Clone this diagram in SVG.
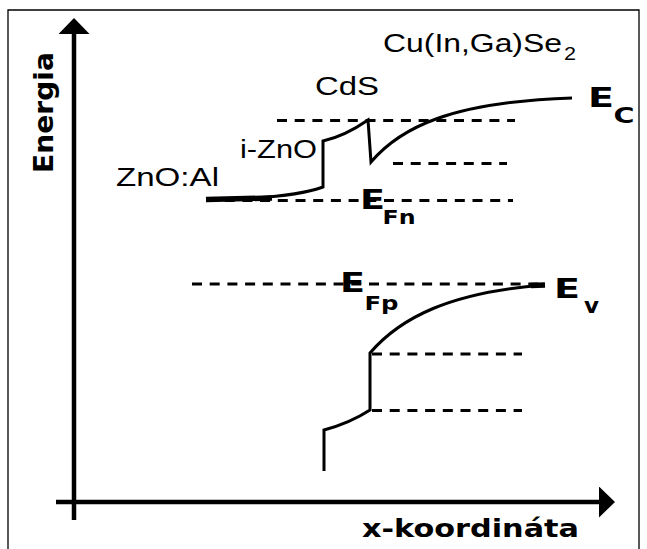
<svg xmlns="http://www.w3.org/2000/svg" width="647" height="549" viewBox="0 0 647 549">
  <style>
    .frame { fill: none; stroke: #000; stroke-width: 1.3; }
    .axis { fill: none; stroke: #000; stroke-width: 4.5; }
    .band { fill: none; stroke: #000; stroke-width: 3; stroke-linejoin: miter; }
    .thick { fill: none; stroke: #000; stroke-width: 5.5; }
    .dash { fill: none; stroke: #000; stroke-width: 3; stroke-dasharray: 10 7.7; }
    .lbl { font-family: "Liberation Sans", Arial, sans-serif; font-size: 26px; fill: #000; }
    .sub { font-family: "Liberation Sans", Arial, sans-serif; font-size: 18px; fill: #000; }
    .bold { font-family: "DejaVu Sans", Verdana, sans-serif; font-weight: bold; fill: #000; }
  </style>
  <defs>
    <marker id="arr" viewBox="0 0 16 31" refX="0" refY="15.5" markerWidth="16" markerHeight="31" markerUnits="userSpaceOnUse" orient="auto">
      <path d="M0,0 L16,15.5 L0,31 Z" fill="#000"/>
    </marker>
  </defs>
  <rect width="647" height="549" fill="#fff"/>
  <path class="frame" d="M8,549 V10 H639 V549"/>

  <g id="axes">
    <line class="axis" x1="74" y1="520" x2="74" y2="34" marker-end="url(#arr)"/>
    <line class="axis" x1="56" y1="502" x2="599" y2="502" marker-end="url(#arr)"/>
    <text class="bold" font-size="27" transform="translate(53,173) rotate(-90)" textLength="121" lengthAdjust="spacingAndGlyphs">Energia</text>
    <text class="bold" font-size="24" x="362" y="537" textLength="217" lengthAdjust="spacingAndGlyphs">x-koordináta</text>
  </g>

  <g id="levels">
    <path class="dash" d="M277,120.5 H515"/>
    <path class="dash" d="M393,163.5 H507"/>
    <path class="dash" d="M207,200.5 H513"/>
    <path class="dash" d="M192,284 H545"/>
    <path class="dash" d="M372,354 H522"/>
    <path class="dash" d="M372,410.5 H522"/>
  </g>

  <g id="Ec-band">
    <path class="band" d="M206,199.5 Q290,199 323,187 L323,141 Q345,136 368,120 L371,162 C400,128 450,102 572,98"/>
    <path class="thick" d="M206,199.5 L272,198"/>
  </g>

  <g id="Ev-band">
    <path class="band" d="M324,471 L324,430 Q350,423 370,410 L370,353 C400,318 450,292 545,285"/>
    <path class="thick" d="M531,285.5 L545,285"/>
  </g>

  <g id="material-labels">
    <text class="lbl" x="383" y="52" textLength="179" lengthAdjust="spacingAndGlyphs">Cu(In,Ga)Se</text>
    <text class="sub" x="564" y="60" textLength="12" lengthAdjust="spacingAndGlyphs">2</text>
    <text class="lbl" x="315" y="94.5" textLength="64" lengthAdjust="spacingAndGlyphs">CdS</text>
    <text class="lbl" x="240" y="157.5" textLength="77" lengthAdjust="spacingAndGlyphs">i-ZnO</text>
    <text class="lbl" x="116" y="185.5" textLength="103" lengthAdjust="spacingAndGlyphs">ZnO:Al</text>
  </g>

  <g id="energy-labels">
    <text class="bold" font-size="27" x="588" y="107" textLength="26" lengthAdjust="spacingAndGlyphs">E</text>
    <text class="bold" font-size="22" x="613.5" y="123" textLength="21" lengthAdjust="spacingAndGlyphs">C</text>
    <text class="bold" font-size="27" x="554" y="298" textLength="26" lengthAdjust="spacingAndGlyphs">E</text>
    <text class="bold" font-size="22" x="584" y="313" textLength="15" lengthAdjust="spacingAndGlyphs">v</text>
    <text class="bold" font-size="27" x="360" y="209" textLength="25" lengthAdjust="spacingAndGlyphs">E</text>
    <text class="bold" font-size="20" x="382.5" y="224" textLength="33" lengthAdjust="spacingAndGlyphs">Fn</text>
    <text class="bold" font-size="27" x="340" y="292" textLength="25" lengthAdjust="spacingAndGlyphs">E</text>
    <text class="bold" font-size="20" x="364.5" y="310" textLength="34" lengthAdjust="spacingAndGlyphs">Fp</text>
  </g>
</svg>
